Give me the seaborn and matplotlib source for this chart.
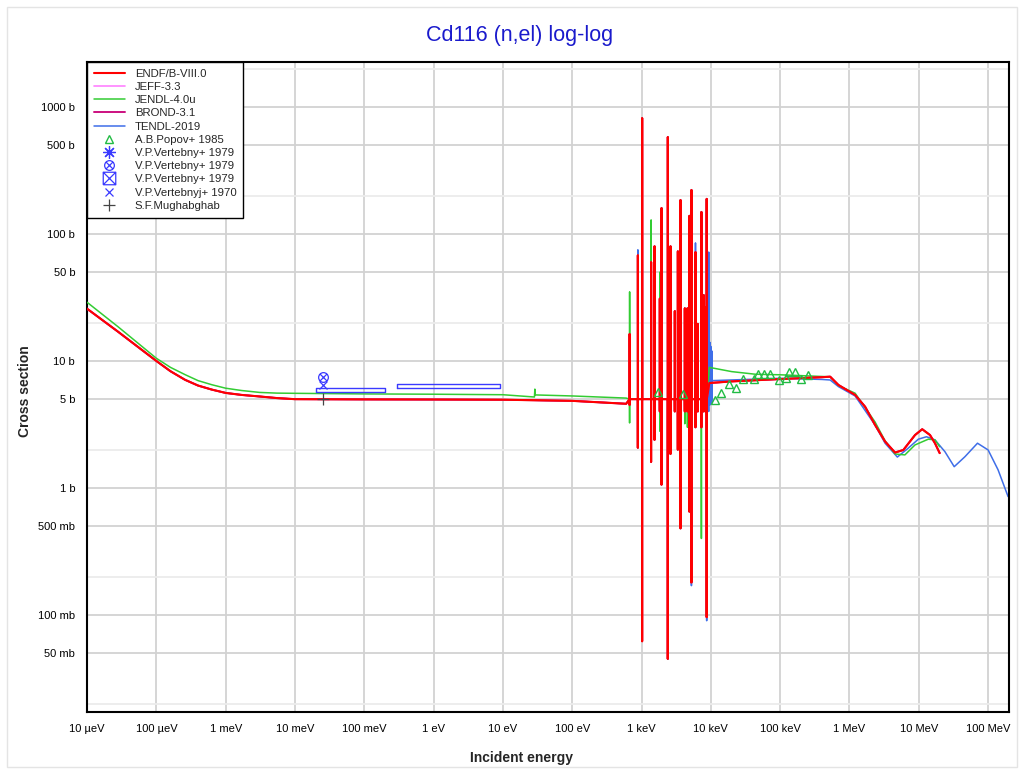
#!/usr/bin/env python3
"""
Cd116 (n,el) 弹性散射截面 log-log 图
评价库曲线 + 实验点
"""

import numpy as np
import pandas as pd
import matplotlib
matplotlib.use('Agg')
import matplotlib.pyplot as plt
import seaborn as sns
from matplotlib.path import Path
from matplotlib.ticker import FixedLocator, FixedFormatter, NullFormatter

# ---- 数据 (能量 eV, 截面 b) ----
# 热区到共振区前
low_e = [1e-5, 2.8e-5, 1e-4, 1.6e-4, 2.6e-4, 4e-4, 6.3e-4, 1e-3, 1.7e-3, 3.1e-3,
         5.5e-3, 1e-2, 0.1, 1.0, 10.0, 100.0, 600.0]
endf_low = [25.8, 17.0, 10.0, 8.3, 7.1, 6.4, 5.95, 5.6, 5.4, 5.25,
            5.1, 5.0, 4.98, 4.97, 4.95, 4.85, 4.6]
jendl_low_e = [1e-5, 2.8e-5, 1e-4, 1.6e-4, 2.6e-4, 4e-4, 6.3e-4, 1e-3, 1.7e-3, 3.1e-3,
               5.5e-3, 1e-2, 0.1, 1.0, 10.0, 28.5, 28.9, 29.3, 100.0, 600.0]
jendl_low = [29.0, 18.6, 10.5, 8.9, 7.8, 7.0, 6.5, 6.1, 5.85, 5.65,
             5.58, 5.56, 5.5, 5.47, 5.42, 5.2, 6.0, 5.4, 5.3, 5.1]

# 分辨共振区
res_base = 5.0
res_e = [673, 885, 1021, 1375, 1540, 1835, 1943, 2393, 2618, 3020, 3340,
         3650, 4210, 4600, 4910, 5250, 6000, 6470, 7310, 7890, 8510, 8710]
endf_peak = [16.3, 68, 818, 60, 80, 31, 160, 580, 80, 24.7, 73,
             185, 26, 26, 139, 222, 72, 19.6, 149, 33, 26.6, 189]
endf_dip = [4.5, 2.07, 0.062, 1.6, 2.39, 4.0, 1.06, 0.045, 1.85, 4.0, 2.0,
            0.48, 4.0, 4.0, 0.65, 0.18, 3.0, 4.0, 3.0, 4.0, 4.0, 0.096]
jeff_peak = [16.3, 68, 818, 68, 80, 31, 160, 580, 80, 24.7, 73,
             185, 26, 26, 139, 222, 72, 19.6, 149, 33, 26.6, 189]
jendl_peak = [35, 68, 818, 129, 80, 50, 160, 580, 80, 24.7, 73,
              185, 26, 26, 139, 222, 72, 19.6, 149, 33, 26.6, 189]
jendl_dip = [3.25, 2.07, 0.062, 1.6, 2.39, 2.8, 1.06, 0.045, 1.85, 4.0, 2.0,
             0.48, 3.2, 3.0, 0.65, 0.18, 3.0, 4.0, 0.40, 4.0, 4.0, 0.096]
tendl_res_e = [673, 885, 1021, 1375, 1540, 1835, 1943, 2393, 2618, 3020, 3340,
               3650, 4210, 4600, 4910, 5250, 6000, 6470, 7310, 7890, 8510, 8710,
               9310, 9700, 10000, 10300]
tendl_peak = [16.3, 75, 818, 60, 80, 31, 160, 580, 80, 24.7, 73,
              185, 26, 26, 139, 222, 85, 19.6, 149, 33, 26.6, 189,
              72, 14, 13, 12]
tendl_dip = [4.5, 2.07, 0.062, 1.6, 2.39, 4.0, 1.06, 0.045, 1.85, 4.0, 2.0,
             0.48, 4.0, 4.0, 0.65, 0.17, 3.0, 4.0, 3.0, 4.0, 4.0, 0.09,
             4.0, 4.5, 4.6, 4.7]

# 高能区
endf_hi_e = [9.5e3, 2e4, 1e5, 4e5, 5.26e5, 6.92e5, 1.205e6, 1.68e6, 2.34e6, 3.26e6,
             4.54e6, 5.98e6, 8.82e6, 1.12e7, 1.45e7, 1.71e7, 2.0e7]
endf_hi = [6.7, 6.9, 7.2, 7.45, 7.52, 6.47, 5.40, 4.36, 3.13, 2.32,
           1.90, 1.99, 2.61, 2.90, 2.61, 2.25, 1.88]
jendl_hi_e = [9.5e3, 2.0e4, 4.37e4, 1e5, 5.26e5, 6.92e5, 1.205e6, 1.68e6, 2.34e6, 3.26e6,
              4.54e6, 6.3e6, 8.8e6, 1.37e7, 1.71e7, 2.0e7]
jendl_hi = [8.9, 8.24, 7.86, 7.78, 7.5, 6.4, 5.57, 4.3, 3.3, 2.35,
            1.85, 1.82, 2.18, 2.42, 2.39, 2.11]
tendl_hi_e = [1.05e4, 1e5, 4e5, 5.26e5, 6.92e5, 1.205e6, 2.34e6, 3.26e6, 4.9e6, 7.06e6,
              9.84e6, 1.29e7, 1.71e7, 2.38e7, 3.24e7, 4.62e7, 7.02e7, 1e8, 1.39e8, 1.94e8]
tendl_hi = [7.0, 7.3, 7.15, 7.08, 6.28, 5.30, 3.13, 2.25, 1.75, 2.06,
            2.42, 2.53, 2.39, 1.93, 1.47, 1.76, 2.25, 1.99, 1.39, 0.855]

# 实验数据
popov_e = [1.73e3, 3.98e3, 1.16e4, 1.42e4, 1.81e4, 2.30e4, 2.90e4, 4.14e4, 4.78e4,
           5.82e4, 7.20e4, 9.48e4, 1.21e5, 1.36e5, 1.65e5, 2.01e5, 2.51e5]
popov_xs = [5.7, 5.45, 4.93, 5.57, 6.56, 6.10, 7.26, 7.18, 7.86,
            7.94, 7.94, 7.08, 7.31, 8.24, 8.15, 7.26, 7.80]
vert79a_e, vert79a_xs = [], []
vert79b_e, vert79b_xs = [0.0253], [7.52]
box_e_lo = [0.0198, 0.297]
box_e_hi = [0.202, 9.04]
box_xs = [5.87, 6.33]
box_dxs = [0.21, 0.23]
vert70_e, vert70_xs = [0.0253], [6.48]
mugh_e, mugh_xs = [0.0253], [4.99]

x_ticks = [1e-5, 1e-4, 1e-3, 1e-2, 1e-1, 1, 10, 100, 1e3, 1e4, 1e5, 1e6, 1e7, 1e8]
x_labels = ['10 µeV', '100 µeV', '1 meV', '10 meV', '100 meV', '1 eV', '10 eV',
            '100 eV', '1 keV', '10 keV', '100 keV', '1 MeV', '10 MeV', '100 MeV']
y_ticks = [0.05, 0.1, 0.5, 1, 5, 10, 50, 100, 500, 1000]
y_labels = ['50 mb', '100 mb', '500 mb', '1 b', '5 b', '10 b', '50 b', '100 b',
            '500 b', '1000 b']
y_minor = [0.02, 0.2, 2, 20, 200, 2000]


def build_curve(lo_e, lo_xs, r_e, peaks, dips, hi_e, hi_xs):
    """把热区、共振、高能区拼成一条曲线"""
    e = list(lo_e)
    xs = list(lo_xs)
    for er, pk, dp in zip(r_e, peaks, dips):
        e += [er * 0.997, er * 0.999, er, er * 1.003]
        xs += [res_base, dp, pk, res_base]
    e += list(hi_e)
    xs += list(hi_xs)
    return pd.DataFrame({'energy': e, 'xs': xs})


sns.set_theme(style='white')
plt.rcParams['font.family'] = ['Liberation Sans', 'DejaVu Sans']

fig = plt.figure(figsize=(10.24, 7.74), dpi=100)
ax = fig.add_axes([87 / 1024, 1 - 712 / 774, (1009 - 87) / 1024, (712 - 62) / 774])
ax.set_xscale('log')
ax.set_yscale('log')

curves = [
    ('ENDF/B-VIII.0', '#ff0000', 1.5, 6,
     build_curve(low_e, endf_low, res_e, endf_peak, endf_dip, endf_hi_e, endf_hi)),
    ('JEFF-3.3', '#ff80ff', 1.2, 3,
     build_curve(low_e, endf_low, res_e, jeff_peak, endf_dip, endf_hi_e, endf_hi)),
    ('JENDL-4.0u', '#33cc33', 1.1, 4,
     build_curve(jendl_low_e, jendl_low, res_e, jendl_peak, jendl_dip, jendl_hi_e, jendl_hi)),
    ('BROND-3.1', '#cc1080', 1.4, 5,
     build_curve(low_e, endf_low, res_e, endf_peak, endf_dip, endf_hi_e, endf_hi)),
    ('TENDL-2019', '#3f6ee8', 1.1, 2,
     build_curve(low_e, endf_low, tendl_res_e, tendl_peak, tendl_dip, tendl_hi_e, tendl_hi)),
]
for name, col, lw, z, df in curves:
    sns.lineplot(data=df, x='energy', y='xs', ax=ax, color=col, lw=lw, zorder=z,
                 label=name, estimator=None, sort=False)

# 自定义标记
circ_x = Path.make_compound_path(
    Path.unit_circle(),
    Path([(-0.707, -0.707), (0.707, 0.707)]),
    Path([(-0.707, 0.707), (0.707, -0.707)]))
sq_x = Path.make_compound_path(
    Path([(-1, -1), (1, -1), (1, 1), (-1, 1), (-1, -1)]),
    Path([(-1, -1), (1, 1)]),
    Path([(-1, 1), (1, -1)]))

blue = '#3a3aff'
ax.plot(popov_e, popov_xs, ls='none', marker='^', ms=5.5, mfc='none', mec='#22bb44',
        mew=1.0, label='A.B.Popov+ 1985', zorder=7)
ax.plot(vert79a_e, vert79a_xs, ls='none', marker=(8, 2, 0), ms=9, mec=blue, mew=0.9,
        label='V.P.Vertebny+ 1979', zorder=7)
ax.plot(vert79b_e, vert79b_xs, ls='none', marker=circ_x, ms=7, mfc='none', mec=blue,
        mew=0.9, label='V.P.Vertebny+ 1979', zorder=7)
ax.plot([], [], ls='none', marker=sq_x, ms=9, mfc='none', mec=blue, mew=0.9,
        label='V.P.Vertebny+ 1979')
ax.plot(vert70_e, vert70_xs, ls='none', marker='x', ms=6, mec=blue, mew=0.9,
        label='V.P.Vertebnyj+ 1970', zorder=7)
ax.plot(mugh_e, mugh_xs, ls='none', marker='+', ms=8, mec='#444444', mew=0.9,
        label='S.F.Mughabghab', zorder=7)
# 能区平均数据画成方框
for lo, hi, y, dy in zip(box_e_lo, box_e_hi, box_xs, box_dxs):
    ax.plot([lo, hi, hi, lo, lo], [y - dy, y - dy, y + dy, y + dy, y - dy],
            color=blue, lw=1.0, zorder=7, label='_nolegend_')

ax.set_xlim(1e-5, 2.0e8)
ax.set_ylim(0.0172, 2260)

ax.xaxis.set_major_locator(FixedLocator(x_ticks))
ax.xaxis.set_major_formatter(FixedFormatter(x_labels))
ax.xaxis.set_minor_locator(FixedLocator([]))
ax.yaxis.set_major_locator(FixedLocator(y_ticks))
ax.yaxis.set_major_formatter(FixedFormatter(y_labels))
ax.yaxis.set_minor_locator(FixedLocator(y_minor))
ax.yaxis.set_minor_formatter(NullFormatter())
ax.tick_params(which='major', direction='out', length=5, width=1, colors='black',
               labelsize=8, labelcolor='black')
ax.tick_params(which='minor', axis='y', direction='in', length=4, width=1, colors='black')

ax.set_axisbelow(True)
ax.grid(which='major', color='#d2d2d2', lw=1.3)
ax.grid(which='minor', axis='y', color='#ececec', lw=1.3)
for sp in ax.spines.values():
    sp.set_color('black')
    sp.set_linewidth(1.5)

ax.set_xlabel('')
ax.set_ylabel('')
fig.text(522 / 1024, 1 - 758 / 774, 'Incident energy', ha='center', va='center',
         fontsize=10, fontweight='bold')
fig.text(25 / 1024, 1 - 391 / 774, 'Cross section', ha='center', va='center',
         rotation=90, fontsize=10, fontweight='bold')
fig.text(520 / 1024, 1 - 35 / 774, 'Cd116 (n,el) log-log', ha='center', va='center',
         fontsize=15.5, color='#1a1acc')

handles, labels = ax.get_legend_handles_labels()
leg = ax.legend(handles, labels, loc='upper left', fontsize=8.2, frameon=True,
                fancybox=False, edgecolor='black', framealpha=1, borderaxespad=0,
                handlelength=2.7, handletextpad=0.9, labelspacing=0.28, borderpad=0.6)
leg.get_frame().set_linewidth(1.0)

# 外框
fig.patches.append(plt.Rectangle((7 / 1024, 7 / 774), 1010 / 1024, 760 / 774,
                                 transform=fig.transFigure, fill=False,
                                 edgecolor='#e4e4e4', lw=1.0))

fig.savefig('out.png', dpi=100)
plt.close(fig)
